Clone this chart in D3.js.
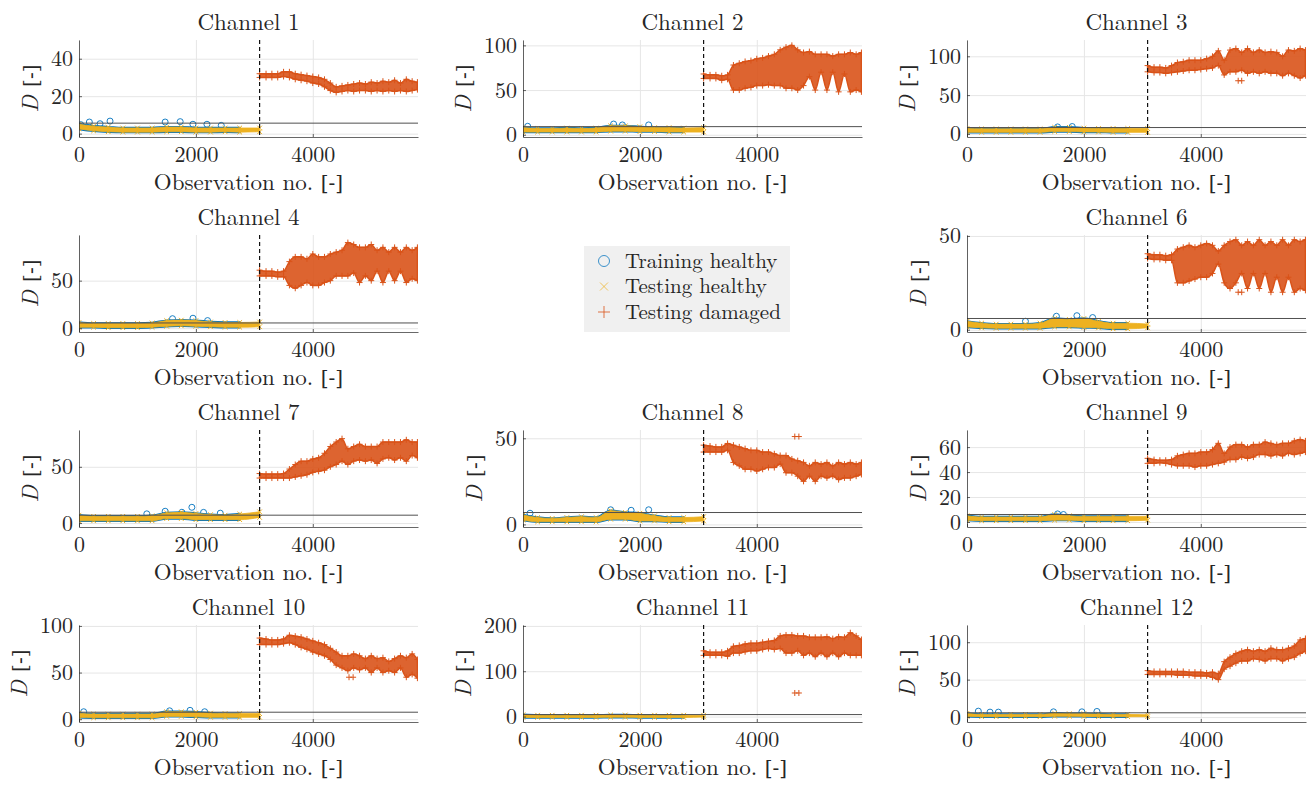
<!DOCTYPE html>
<html>
<head>
<meta charset="utf-8">
<title>Channels</title>
<script src="https://cdn.jsdelivr.net/npm/d3@7"></script>
<style>
  body { margin: 0; background: #fff; }
  svg text { font-family: "Latin Modern Roman", "CMU Serif", "DejaVu Serif", serif; fill: #262626; }
  svg text .br { font-family: "DejaVu Serif", serif; }
</style>
</head>
<body>
<svg id="chart" width="1314" height="785"></svg>
<script>
// ---- data ----
const channelNames = ["Channel 1", "Channel 2", "Channel 3", "Channel 4", "Channel 6", "Channel 7",
                      "Channel 8", "Channel 9", "Channel 10", "Channel 11", "Channel 12"];
const legendLabels = ["Training healthy", "Testing healthy", "Testing damaged"];

const xDomain = [0, 5800];
const xTicks = [0, 2000, 4000];
const splitObs = 3090;   // dashed line: end of healthy data

const yDomains = [[-1.8, 50], [-2.5, 106], [-4, 121], [-4, 98], [-1.2, 50.5], [-3.5, 82.7],
                  [-1.5, 54.8], [-4, 73.7], [-3, 101], [-12, 202], [-6.6, 123]];
const yTicks = [[0, 20, 40], [0, 50, 100], [0, 50, 100], [0, 50], [0, 50], [0, 50],
                [0, 50], [0, 20, 40, 60], [0, 50, 100], [0, 100, 200], [0, 50, 100]];
const thresholds = [5.6, 9.1, 8.2, 5.5, 6.0, 7.0, 6.9, 6.0, 7.5, 4.4, 5.7];

// healthy observations (training ends at 2750, testing runs to the split)
const obsHealthy = [0, 250, 500, 750, 1000, 1250, 1500, 1750, 2000, 2250, 2500, 2750, 3090];
const trainCount = 12;
const healthyLow = [
  [2.5, 1.5, 1, 0.8, 0.8, 0.8, 1, 1, 0.8, 0.8, 1, 0.8, 1],
  [3, 3, 3, 3, 3, 3, 4, 4, 3.5, 3.5, 3, 3, 3],
  [2, 2, 2, 2, 2, 2, 3, 3, 2.5, 2.5, 2, 2, 2],
  [1, 1, 0.5, 0.5, 0.5, 1, 2, 2.5, 2, 1.5, 1, 1, 1.5],
  [1.5, 1, 0.8, 0.8, 0.8, 0.8, 1.5, 1.5, 1.2, 1, 0.5, 0.5, 1],
  [2, 2, 2, 2, 2, 2, 4, 4, 3, 3, 3, 3, 5],
  [2.5, 1.5, 1.5, 1.5, 1.5, 1.5, 3, 3, 2, 2, 1.5, 1.5, 2],
  [1.5, 1, 1, 1, 1, 1, 1.5, 1.5, 1, 1, 1, 1, 1.5],
  [2, 1.5, 1.5, 1.5, 1.5, 1.5, 3, 3, 2.5, 2, 2, 2, 2],
  [-2, -2, -2, -2, -2, -2, -1.5, -1.5, -2, -2, -2, -2, -1],
  [1, 0.5, 0.5, 0.5, 0.5, 0.5, 1, 1, 0.8, 0.5, 0.5, 0.5, 0.5]
];
const healthyHigh = [
  [5, 4, 3.5, 3, 3, 3, 3.5, 3.5, 3, 3, 3, 3, 3],
  [8, 7, 7, 7.5, 7, 7.5, 10, 10, 9, 8, 8, 7.5, 8],
  [7, 6.5, 6.5, 6.5, 6.5, 6.5, 8.5, 8.5, 7.5, 7, 7, 7, 7],
  [6, 5, 5, 5, 5, 5.5, 8, 8.5, 8, 6.5, 6, 6, 6.5],
  [4.5, 3.5, 3, 3, 3, 3.5, 6, 5.5, 6, 4.5, 3.5, 3.5, 3],
  [7, 6, 6, 6, 6, 6.5, 9, 9.5, 8.5, 7.5, 7, 8, 10],
  [5.5, 4, 3.5, 4, 4.5, 4, 8, 7, 6.5, 5, 4, 4, 4.5],
  [5, 4, 4, 4, 4, 4, 6, 5, 4.5, 4.5, 4.5, 4.5, 4.5],
  [6.5, 5.5, 5.5, 5.5, 5.5, 5.5, 8, 8, 7.5, 6.5, 6, 6, 6],
  [4, 3, 3, 3, 3, 3, 3.5, 3.5, 3, 3, 3, 3, 3],
  [5, 3.5, 3.5, 3.5, 3.5, 3.5, 5, 4.5, 4.5, 4, 3.5, 3.5, 3]
];
// single training points standing out above the band [obs, D]
const trainPeaks = [
  [[30, 4.8], [177, 6.2], [360, 5.3], [531, 6.7], [1474, 6.2], [1731, 6.4], [1949, 5], [2189, 5], [2434, 4.4]],
  [[80, 9.5], [1550, 12], [1700, 11], [2150, 11]],
  [[1550, 9], [1800, 9.5]],
  [[1600, 10], [1950, 10.5], [2200, 8]],
  [[1000, 4.5], [1530, 7.2], [1880, 7.5], [2150, 6.5]],
  [[1160, 8.2], [1474, 10.5], [1760, 9.6], [1931, 14], [2131, 9.5], [2417, 8.8]],
  [[120, 6.5], [1500, 8.5], [1850, 8.2], [2150, 8.5]],
  [[1550, 6.5], [1650, 6]],
  [[80, 8], [1550, 9], [1900, 9.5], [2150, 8]],
  [],
  [[194, 7.9], [394, 6.6], [537, 6.6], [1480, 7], [1966, 7], [2223, 7.5]]
];

// damaged observations: band extent (low / high) per sample
const obsDamaged = [3090, 3200, 3300, 3400, 3500, 3600, 3700, 3800, 3900, 4000, 4100, 4200, 4300, 4400,
                    4500, 4600, 4700, 4800, 4900, 5000, 5100, 5200, 5300, 5400, 5500, 5600, 5700, 5790];
const damagedLow = [
  [30, 30, 30, 30, 30.5, 30, 29, 28.5, 28, 27, 26.5, 25, 23, 22, 22.5, 23, 22.5, 23, 23, 22.5, 23, 22.5, 23, 22.5, 23, 22.5, 23, 23.5],
  [63, 63, 63, 61, 62, 50, 50, 52, 53, 55, 55, 56, 55, 55, 52, 52, 50, 55, 65, 50, 70, 50, 70, 48, 68, 48, 50, 48],
  [80, 79, 79, 78, 79, 80, 81, 82, 82, 83, 84, 85, 88, 76, 80, 80, 82, 78, 80, 78, 80, 78, 78, 75, 78, 75, 72, 75],
  [55, 55, 55, 54, 54, 45, 42, 45, 48, 45, 45, 48, 50, 55, 55, 55, 58, 48, 55, 50, 60, 48, 60, 50, 60, 48, 52, 50],
  [38, 37.5, 37.5, 37, 37, 25, 25, 26, 27, 28, 28, 30, 35, 25, 22, 25, 30, 22, 30, 22, 30, 20, 28, 20, 28, 20, 22, 21],
  [40, 40, 40, 40, 40, 40, 41, 42, 43, 45, 46, 47, 50, 52, 55, 52, 55, 56, 55, 56, 53, 57, 58, 56, 58, 55, 60, 58],
  [42, 42, 42, 42, 43, 36, 34, 32, 32, 31, 32, 33, 33, 35, 30, 30, 28, 25, 28, 25, 28, 27, 28, 26, 27, 27, 28, 29],
  [47, 47, 47.5, 47, 46, 45, 45, 45, 44, 45, 45, 46, 47, 48, 50, 50, 52, 51, 52, 54, 54, 53, 54, 53, 55, 54, 55, 56],
  [80, 80, 80, 80, 81, 82, 80, 77, 75, 72, 70, 68, 64, 58, 55, 52, 55, 53, 55, 50, 55, 50, 52, 50, 55, 45, 48, 44],
  [135, 135, 135, 135, 133, 140, 140, 143, 145, 145, 148, 150, 148, 150, 140, 140, 145, 135, 140, 132, 140, 132, 140, 132, 140, 135, 135, 135],
  [57, 57, 57, 57, 57, 56, 56, 56, 55, 55, 55, 53, 50, 64, 68, 72, 75, 75, 78, 77, 75, 78, 78, 75, 78, 80, 85, 88]
];
const damagedHigh = [
  [32, 32, 32, 32, 33, 33, 32, 31.5, 31, 30.5, 30, 29, 27, 25, 25.5, 26, 26.5, 27, 26.5, 27.5, 27, 28, 27.5, 28.5, 27, 29, 28, 27.5],
  [68, 67, 67, 66, 67, 78, 80, 82, 83, 85, 86, 88, 90, 95, 98, 100, 95, 92, 93, 90, 90, 90, 88, 90, 90, 92, 90, 92],
  [88, 86, 86, 85, 88, 92, 93, 95, 95, 95, 97, 100, 107, 95, 108, 110, 105, 110, 105, 108, 105, 106, 105, 100, 108, 107, 110, 108],
  [61, 60, 60, 59, 60, 70, 75, 75, 73, 78, 75, 75, 78, 80, 82, 90, 88, 85, 85, 88, 82, 85, 80, 85, 80, 85, 82, 85],
  [40.5, 40, 40, 39.5, 40, 43, 44, 45, 44, 45, 46, 45, 42, 45, 47, 48, 45, 47, 45, 48, 45, 47, 45, 48, 45, 48, 47, 48],
  [44, 43.5, 43.5, 43.5, 44, 48, 52, 55, 55, 57, 58, 62, 68, 72, 75, 66, 68, 70, 68, 68, 68, 72, 72, 72, 72, 74, 72, 72],
  [46, 45.5, 45, 45, 47, 46, 45, 44, 43, 43, 42, 42, 41, 40, 40, 38, 37, 36, 34, 36, 35, 36, 34, 36, 35, 36, 35, 36],
  [51, 50, 49.5, 49.5, 50, 53, 54, 55, 55, 56, 56, 58, 63, 55, 60, 62, 62, 60, 62, 62, 64, 63, 62, 63, 63, 65, 66, 65],
  [87, 86, 85, 85, 86, 90, 89, 88, 86, 84, 82, 80, 76, 72, 68, 68, 70, 68, 65, 68, 65, 66, 62, 65, 68, 66, 70, 64],
  [145, 142, 142, 142, 145, 155, 157, 160, 162, 162, 164, 166, 168, 178, 180, 180, 178, 178, 175, 175, 175, 176, 172, 176, 175, 185, 178, 170],
  [62, 61, 61, 61, 61, 61, 61, 60, 60, 60, 59, 60, 58, 74, 80, 85, 88, 90, 88, 90, 88, 92, 90, 90, 92, 95, 103, 105]
];
// isolated damaged points away from the band [obs, D]
const damagedOutliers = [
  [], [], [[4640, 68.5], [4700, 68.5]], [], [[4640, 20], [4700, 20]], [],
  [[4650, 51], [4720, 51]], [], [[4620, 45], [4690, 45]], [[4650, 52], [4720, 52]], []
];

// ---- drawing ----
const colors = { train: "#0072BD", test: "#EDB120", damaged: "#D95319" };
const plusPath = "M-3,0H3M0,-3V3";
const crossPath = "M-2.3,-2.3L2.3,2.3M-2.3,2.3L2.3,-2.3";

const svg = d3.select("#chart");
const colLeft = [79, 523, 967], rowTop = [40, 235, 430, 625];
const pw = 339, ph = 97;
const x = d3.scaleLinear().domain(xDomain).range([0, pw]);

channelNames.forEach((name, i) => {
  const slot = i < 4 ? i : i + 1;   // middle of row 2 holds the legend
  const left = colLeft[slot % 3], top = rowTop[Math.floor(slot / 3)];
  const y = d3.scaleLinear().domain(yDomains[i]).range([ph, 0]);
  const g = svg.append("g").attr("transform", `translate(${left},${top})`);

  g.append("clipPath").attr("id", "clip" + i)
    .append("rect").attr("width", pw).attr("height", ph);

  // grid
  g.append("g").attr("transform", `translate(0,${ph})`)
    .call(d3.axisBottom(x).tickValues(xTicks).tickSize(-ph).tickFormat(""))
    .call(a => { a.select(".domain").remove(); a.selectAll("text").remove(); })
    .selectAll("line").attr("stroke", "#e6e6e6");
  g.append("g")
    .call(d3.axisLeft(y).tickValues(yTicks[i]).tickSize(-pw).tickFormat(""))
    .call(a => { a.select(".domain").remove(); a.selectAll("text").remove(); })
    .selectAll("line").attr("stroke", "#e6e6e6");

  const plot = g.append("g").attr("clip-path", `url(#clip${i})`);

  const healthy = obsHealthy.map((o, k) => ({ o, lo: healthyLow[i][k], hi: healthyHigh[i][k] }));
  const damaged = obsDamaged.map((o, k) => ({ o, lo: damagedLow[i][k], hi: damagedHigh[i][k] }));
  const band = d3.area().x(d => x(d.o)).y0(d => y(d.lo)).y1(d => y(d.hi)).curve(d3.curveMonotoneX);

  // training healthy: blue rim under the yellow band
  plot.append("path").datum(healthy.slice(0, trainCount)).attr("d", band)
    .attr("fill", colors.train).attr("stroke", colors.train).attr("stroke-width", 2.4)
    .attr("stroke-linejoin", "round");
  plot.append("g").selectAll("circle").data(trainPeaks[i]).join("circle")
    .attr("cx", d => x(d[0])).attr("cy", d => y(d[1])).attr("r", 3)
    .attr("fill", "none").attr("stroke", colors.train).attr("stroke-width", 0.9);

  // testing healthy
  plot.append("path").datum(healthy).attr("d", band)
    .attr("fill", colors.test).attr("stroke", colors.test).attr("stroke-width", 0.8);
  plot.append("g").selectAll("path")
    .data(healthy.flatMap(d => [[d.o, d.lo], [d.o, d.hi]])).join("path")
    .attr("d", crossPath).attr("transform", d => `translate(${x(d[0])},${y(d[1])})`)
    .attr("stroke", colors.test).attr("stroke-width", 1);

  // testing damaged
  plot.append("path").datum(damaged).attr("d", band)
    .attr("fill", colors.damaged).attr("fill-opacity", 0.9)
    .attr("stroke", colors.damaged).attr("stroke-width", 1.5).attr("stroke-linejoin", "round");
  plot.append("g").selectAll("path")
    .data(damaged.flatMap(d => [[d.o, d.lo], [d.o, d.hi]]).concat(damagedOutliers[i])).join("path")
    .attr("d", plusPath).attr("transform", d => `translate(${x(d[0])},${y(d[1])})`)
    .attr("stroke", colors.damaged).attr("stroke-width", 1);

  // threshold and split line
  g.append("line").attr("x1", 0).attr("x2", pw)
    .attr("y1", y(thresholds[i])).attr("y2", y(thresholds[i]))
    .attr("stroke", "#505050").attr("stroke-width", 1);
  g.append("line").attr("x1", x(splitObs)).attr("x2", x(splitObs))
    .attr("y1", 0).attr("y2", ph)
    .attr("stroke", "#111").attr("stroke-width", 1.2).attr("stroke-dasharray", "4,3");

  // axes
  const ax = g.append("g").attr("transform", `translate(0,${ph})`)
    .call(d3.axisBottom(x).tickValues(xTicks).tickFormat(d3.format("d"))
      .tickSizeInner(-3).tickSizeOuter(0).tickPadding(9));
  const ay = g.append("g")
    .call(d3.axisLeft(y).tickValues(yTicks[i]).tickFormat(d3.format("d"))
      .tickSizeInner(-3).tickSizeOuter(0).tickPadding(6));
  [ax, ay].forEach(a => {
    a.attr("font-family", null);
    a.select(".domain").attr("stroke", "#262626").attr("stroke-width", 0.7);
    a.selectAll("line").attr("stroke", "#262626").attr("stroke-width", 0.7);
    a.selectAll("text").attr("font-size", 22).attr("fill", "#262626");
  });
  ax.selectAll("text").attr("dy", "0.72em");

  let maxW = 0;
  ay.selectAll("text").each(function () { maxW = Math.max(maxW, this.getComputedTextLength()); });

  g.append("text").attr("x", pw / 2).attr("y", -10).attr("text-anchor", "middle")
    .attr("font-size", 23).text(name);
  const xl = g.append("text").attr("x", pw / 2).attr("y", ph + 53).attr("text-anchor", "middle")
    .attr("font-size", 23);
  xl.append("tspan").text("Observation no. ");
  xl.append("tspan").attr("class", "br").attr("font-size", 20).text("[-]");
  const yl = g.append("text").attr("text-anchor", "middle").attr("font-size", 23)
    .attr("transform", `translate(${-6 - maxW - 13},${ph / 2}) rotate(-90)`);
  yl.append("tspan").attr("font-style", "italic").text("D ");
  yl.append("tspan").attr("class", "br").attr("font-size", 20).text("[-]");
});

// legend
const lg = svg.append("g").attr("transform", "translate(584,246)");
lg.append("rect").attr("width", 206).attr("height", 86).attr("fill", "#f0f0f0");
const items = lg.selectAll("g.item").data(legendLabels).join("g")
  .attr("class", "item").attr("transform", (d, k) => `translate(0,${15 + k * 25.5})`);
items.append("text").attr("x", 41).attr("dy", "0.33em").attr("font-size", 21).text(d => d);
items.filter((d, k) => k === 0).append("circle").attr("cx", 20).attr("r", 5.5)
  .attr("fill", "none").attr("stroke", colors.train).attr("stroke-opacity", 0.75);
items.filter((d, k) => k === 1).append("path").attr("transform", "translate(20,0)")
  .attr("d", "M-4,-4L4,4M-4,4L4,-4").attr("stroke", colors.test).attr("stroke-opacity", 0.7);
items.filter((d, k) => k === 2).append("path").attr("transform", "translate(20,0)")
  .attr("d", "M-6,0H6M0,-6V6").attr("stroke", colors.damaged).attr("stroke-opacity", 0.8);
</script>
</body>
</html>
